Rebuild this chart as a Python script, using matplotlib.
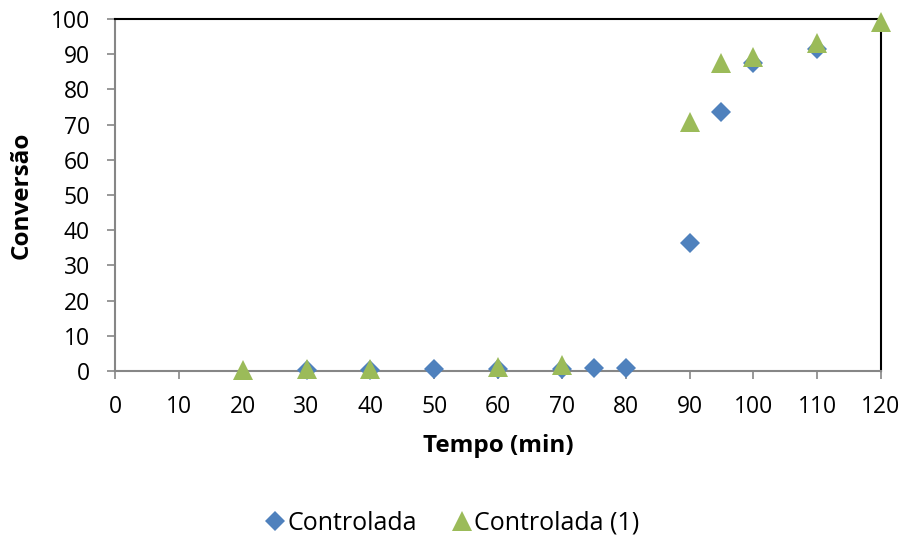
import matplotlib.pyplot as plt
from matplotlib.lines import Line2D

plt.rcParams['font.family'] = ['Open Sans', 'DejaVu Sans']

# Controlada
t_a = [30, 40, 50, 60, 70, 75, 80, 90, 95, 100, 110]
conv_a = [0.3, 0.3, 0.5, 0.5, 0.7, 0.8, 0.9, 36.4, 73.6, 87.5, 91.6]
# Controlada (1)
t_b = [20, 30, 40, 60, 70, 90, 95, 100, 110, 120]
conv_b = [0.2, 0.5, 0.5, 1.2, 1.7, 70.6, 87.4, 89.2, 93.2, 99.2]

xticks = list(range(0, 121, 10))
yticks = list(range(0, 101, 10))

blue = '#4F81BD'
green = '#9BBB59'

fig = plt.figure(figsize=(9.04, 5.37), dpi=100)
ax = fig.add_axes([0.1272, 0.3091, 0.8474, 0.6555])

ax.plot(t_a, conv_a, linestyle='none', marker='D', markersize=10.5,
        color=blue, markeredgewidth=0, clip_on=False, zorder=3)
ax.plot(t_b, conv_b, linestyle='none', marker='^', markersize=15,
        color=green, markeredgewidth=0, clip_on=False, zorder=4)

ax.set_xlim(0, 120)
ax.set_ylim(0, 100)
ax.set_xticks(xticks)
ax.set_yticks(yticks)
ax.tick_params(axis='both', labelsize=16.5, direction='out', length=6,
               width=1.2, color='#868686')
ax.tick_params(axis='x', pad=11)
ax.tick_params(axis='y', pad=12)

for s in ['left', 'bottom']:
    ax.spines[s].set_color('#868686')
    ax.spines[s].set_linewidth(1.5)
for s in ['top', 'right']:
    ax.spines[s].set_color('black')
    ax.spines[s].set_linewidth(1.5)

ax.set_xlabel('Tempo (min)', fontsize=17.5, fontweight='bold', labelpad=11)
ax.set_ylabel('Conversão', fontsize=17.5, fontweight='bold', labelpad=12)

handles = [
    Line2D([], [], linestyle='none', marker='D', markersize=10, color=blue, markeredgewidth=0),
    Line2D([], [], linestyle='none', marker='^', markersize=14, color=green, markeredgewidth=0),
]
fig.legend(handles, ['Controlada', 'Controlada (1)'], loc='center',
           bbox_to_anchor=(0.5, 0.026), ncol=2, frameon=False, fontsize=18,
           handlelength=0.8, handletextpad=0.1, columnspacing=1.4)

fig.savefig('out.png', dpi=100)
